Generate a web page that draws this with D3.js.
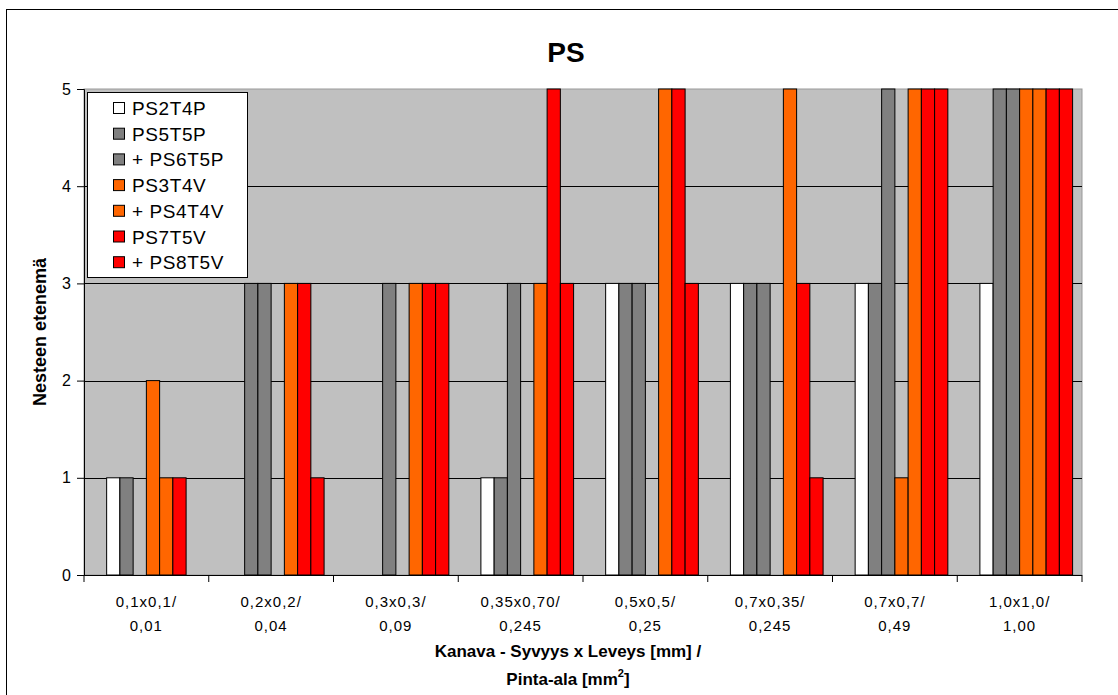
<!DOCTYPE html>
<html>
<head>
<meta charset="utf-8">
<script src="https://cdn.jsdelivr.net/npm/d3@7"></script>
<style>
  body { margin: 0; background: #fff; }
  svg { display: block; font-family: "Liberation Sans", Arial, sans-serif; }
</style>
</head>
<body>
<svg id="chart" width="1118" height="695"></svg>
<script>
// Categories (two-line tick labels)
const categories = ['0,1x0,1/|0,01', '0,2x0,2/|0,04', '0,3x0,3/|0,09', '0,35x0,70/|0,245',
                    '0,5x0,5/|0,25', '0,7x0,35/|0,245', '0,7x0,7/|0,49', '1,0x1,0/|1,00']

const seriesNames = ['PS2T4P', 'PS5T5P', '+ PS6T5P', 'PS3T4V', '+ PS4T4V', 'PS7T5V', '+ PS8T5V']
const seriesColors = ['#FFFFFF', '#808080', '#808080', '#FF6600', '#FF6600', '#FF0000', '#FF0000']

const ps2t4p = [1, 0, 0, 1, 3, 3, 3, 3]
const ps5t5p = [1, 3, 0, 1, 3, 3, 3, 5]
const ps6t5p = [0, 3, 3, 3, 3, 3, 5, 5]
const ps3t4v = [2, 0, 0, 0, 0, 0, 1, 5]
const ps4t4v = [1, 3, 3, 3, 5, 5, 5, 5]
const ps7t5v = [1, 3, 3, 5, 5, 3, 5, 5]
const ps8t5v = [0, 1, 3, 3, 3, 1, 5, 5]
const seriesValues = [ps2t4p, ps5t5p, ps6t5p, ps3t4v, ps4t4v, ps7t5v, ps8t5v]

const yTicks = [0, 1, 2, 3, 4, 5]

// Layout
const plotLeft = 84, plotRight = 1082, plotTop = 89, plotBottom = 575

const svg = d3.select('#chart')

// outer frame
svg.append('rect')
    .attr('x', 6.5).attr('y', 9.5)
    .attr('width', 1130).attr('height', 700)
    .attr('fill', 'none').attr('stroke', '#000').attr('stroke-width', 1)

// Scales
const x0 = d3.scaleBand()
    .domain(categories)
    .range([plotLeft, plotRight])

// first slot is an empty placeholder series, as in the original sheet
const x1 = d3.scaleBand()
    .domain(['', ...seriesNames])
    .range([0, x0.bandwidth()])
    .paddingOuter(0.71)

const y = d3.scaleLinear()
    .domain([0, 5])
    .range([plotBottom, plotTop])

// Plot background
svg.append('rect')
    .attr('x', plotLeft).attr('y', plotTop)
    .attr('width', plotRight - plotLeft).attr('height', plotBottom - plotTop)
    .attr('fill', '#C0C0C0')
    .attr('stroke', '#999').attr('stroke-width', 1)

// Gridlines
svg.append('g')
    .selectAll('line')
    .data(yTicks.filter(d => d > 0 && d < 5))
    .enter()
    .append('line')
    .attr('x1', plotLeft).attr('x2', plotRight)
    .attr('y1', d => Math.round(y(d)) + 0.5).attr('y2', d => Math.round(y(d)) + 0.5)
    .attr('stroke', '#000').attr('stroke-width', 1)

// Bars
const bars = []
seriesValues.forEach((vals, si) => {
    vals.forEach((v, ci) => {
        if (v > 0) bars.push({ s: si, c: ci, v: v })
    })
})

svg.append('g')
    .selectAll('rect')
    .data(bars)
    .enter()
    .append('rect')
    .attr('x', d => x0(categories[d.c]) + x1(seriesNames[d.s]))
    .attr('y', d => y(d.v))
    .attr('width', x1.bandwidth())
    .attr('height', d => y(0) - y(d.v))
    .attr('fill', d => seriesColors[d.s])
    .attr('stroke', '#000').attr('stroke-width', 1)

// Y axis
const yAxis = svg.append('g')
    .attr('transform', `translate(${plotLeft},0)`)
    .call(d3.axisLeft(y).tickValues(yTicks).tickSize(7).tickPadding(6).tickFormat(d3.format('d')))
yAxis.select('.domain').attr('stroke', '#000')
yAxis.selectAll('.tick line').attr('stroke', '#000')
yAxis.selectAll('.tick text')
    .attr('font-size', 16).attr('fill', '#000')
    .attr('font-family', '"Liberation Sans", Arial, sans-serif')

// X axis (ticks at category boundaries)
const xAxis = svg.append('g')
    .attr('transform', `translate(0,${plotBottom})`)
xAxis.append('line')
    .attr('x1', plotLeft).attr('x2', plotRight)
    .attr('y1', 0.5).attr('y2', 0.5)
    .attr('stroke', '#000')
xAxis.selectAll('.xtick')
    .data(d3.range(categories.length + 1))
    .enter()
    .append('line')
    .attr('class', 'xtick')
    .attr('x1', i => i < categories.length ? x0(categories[i]) : plotRight)
    .attr('x2', i => i < categories.length ? x0(categories[i]) : plotRight)
    .attr('y1', 0).attr('y2', 7)
    .attr('stroke', '#000')

const xLabels = xAxis.selectAll('.xlabel')
    .data(categories)
    .enter()
    .append('text')
    .attr('class', 'xlabel')
    .attr('text-anchor', 'middle')
    .attr('font-size', 15)
    .attr('letter-spacing', 1)
    .attr('fill', '#000')
xLabels.each(function(d) {
    const parts = d.split('|')
    const cx = x0(d) + x0.bandwidth() / 2
    d3.select(this).append('tspan').attr('x', cx).attr('y', 32).text(parts[0])
    d3.select(this).append('tspan').attr('x', cx).attr('y', 56).text(parts[1])
})

// Title
svg.append('text')
    .attr('x', 566).attr('y', 62)
    .attr('text-anchor', 'middle')
    .attr('font-size', 28).attr('font-weight', 'bold')
    .text('PS')

// Axis titles
svg.append('text')
    .attr('x', 568).attr('y', 657)
    .attr('text-anchor', 'middle')
    .attr('font-size', 17).attr('font-weight', 'bold')
    .text('Kanava - Syvyys x Leveys [mm] /')

const xt2 = svg.append('text')
    .attr('x', 568).attr('y', 685)
    .attr('text-anchor', 'middle')
    .attr('font-size', 17).attr('font-weight', 'bold')
xt2.append('tspan').text('Pinta-ala [mm')
xt2.append('tspan').attr('font-size', 11).attr('dy', -8).text('2')
xt2.append('tspan').attr('dy', 8).text(']')

svg.append('text')
    .attr('transform', 'translate(46,332) rotate(-90)')
    .attr('text-anchor', 'middle')
    .attr('font-size', 18).attr('font-weight', 'bold')
    .text('Nesteen etenemä')

// Legend
const legend = svg.append('g')
legend.append('rect')
    .attr('x', 87.5).attr('y', 92.5)
    .attr('width', 160).attr('height', 185)
    .attr('fill', '#fff').attr('stroke', '#000').attr('stroke-width', 1)

const legendItems = legend.selectAll('.legend-item')
    .data(seriesNames)
    .enter()
    .append('g')
    .attr('class', 'legend-item')
    .attr('transform', (d, i) => `translate(113,${108 + i * 25.7})`)

legendItems.append('rect')
    .attr('x', 0.5).attr('y', -5.5)
    .attr('width', 11).attr('height', 11)
    .attr('fill', (d, i) => seriesColors[i])
    .attr('stroke', '#000').attr('stroke-width', 1)

legendItems.append('text')
    .attr('x', 19).attr('y', 7)
    .attr('font-size', 19)
    .attr('letter-spacing', 0.6)
    .text(d => d)
</script>
</body>
</html>
